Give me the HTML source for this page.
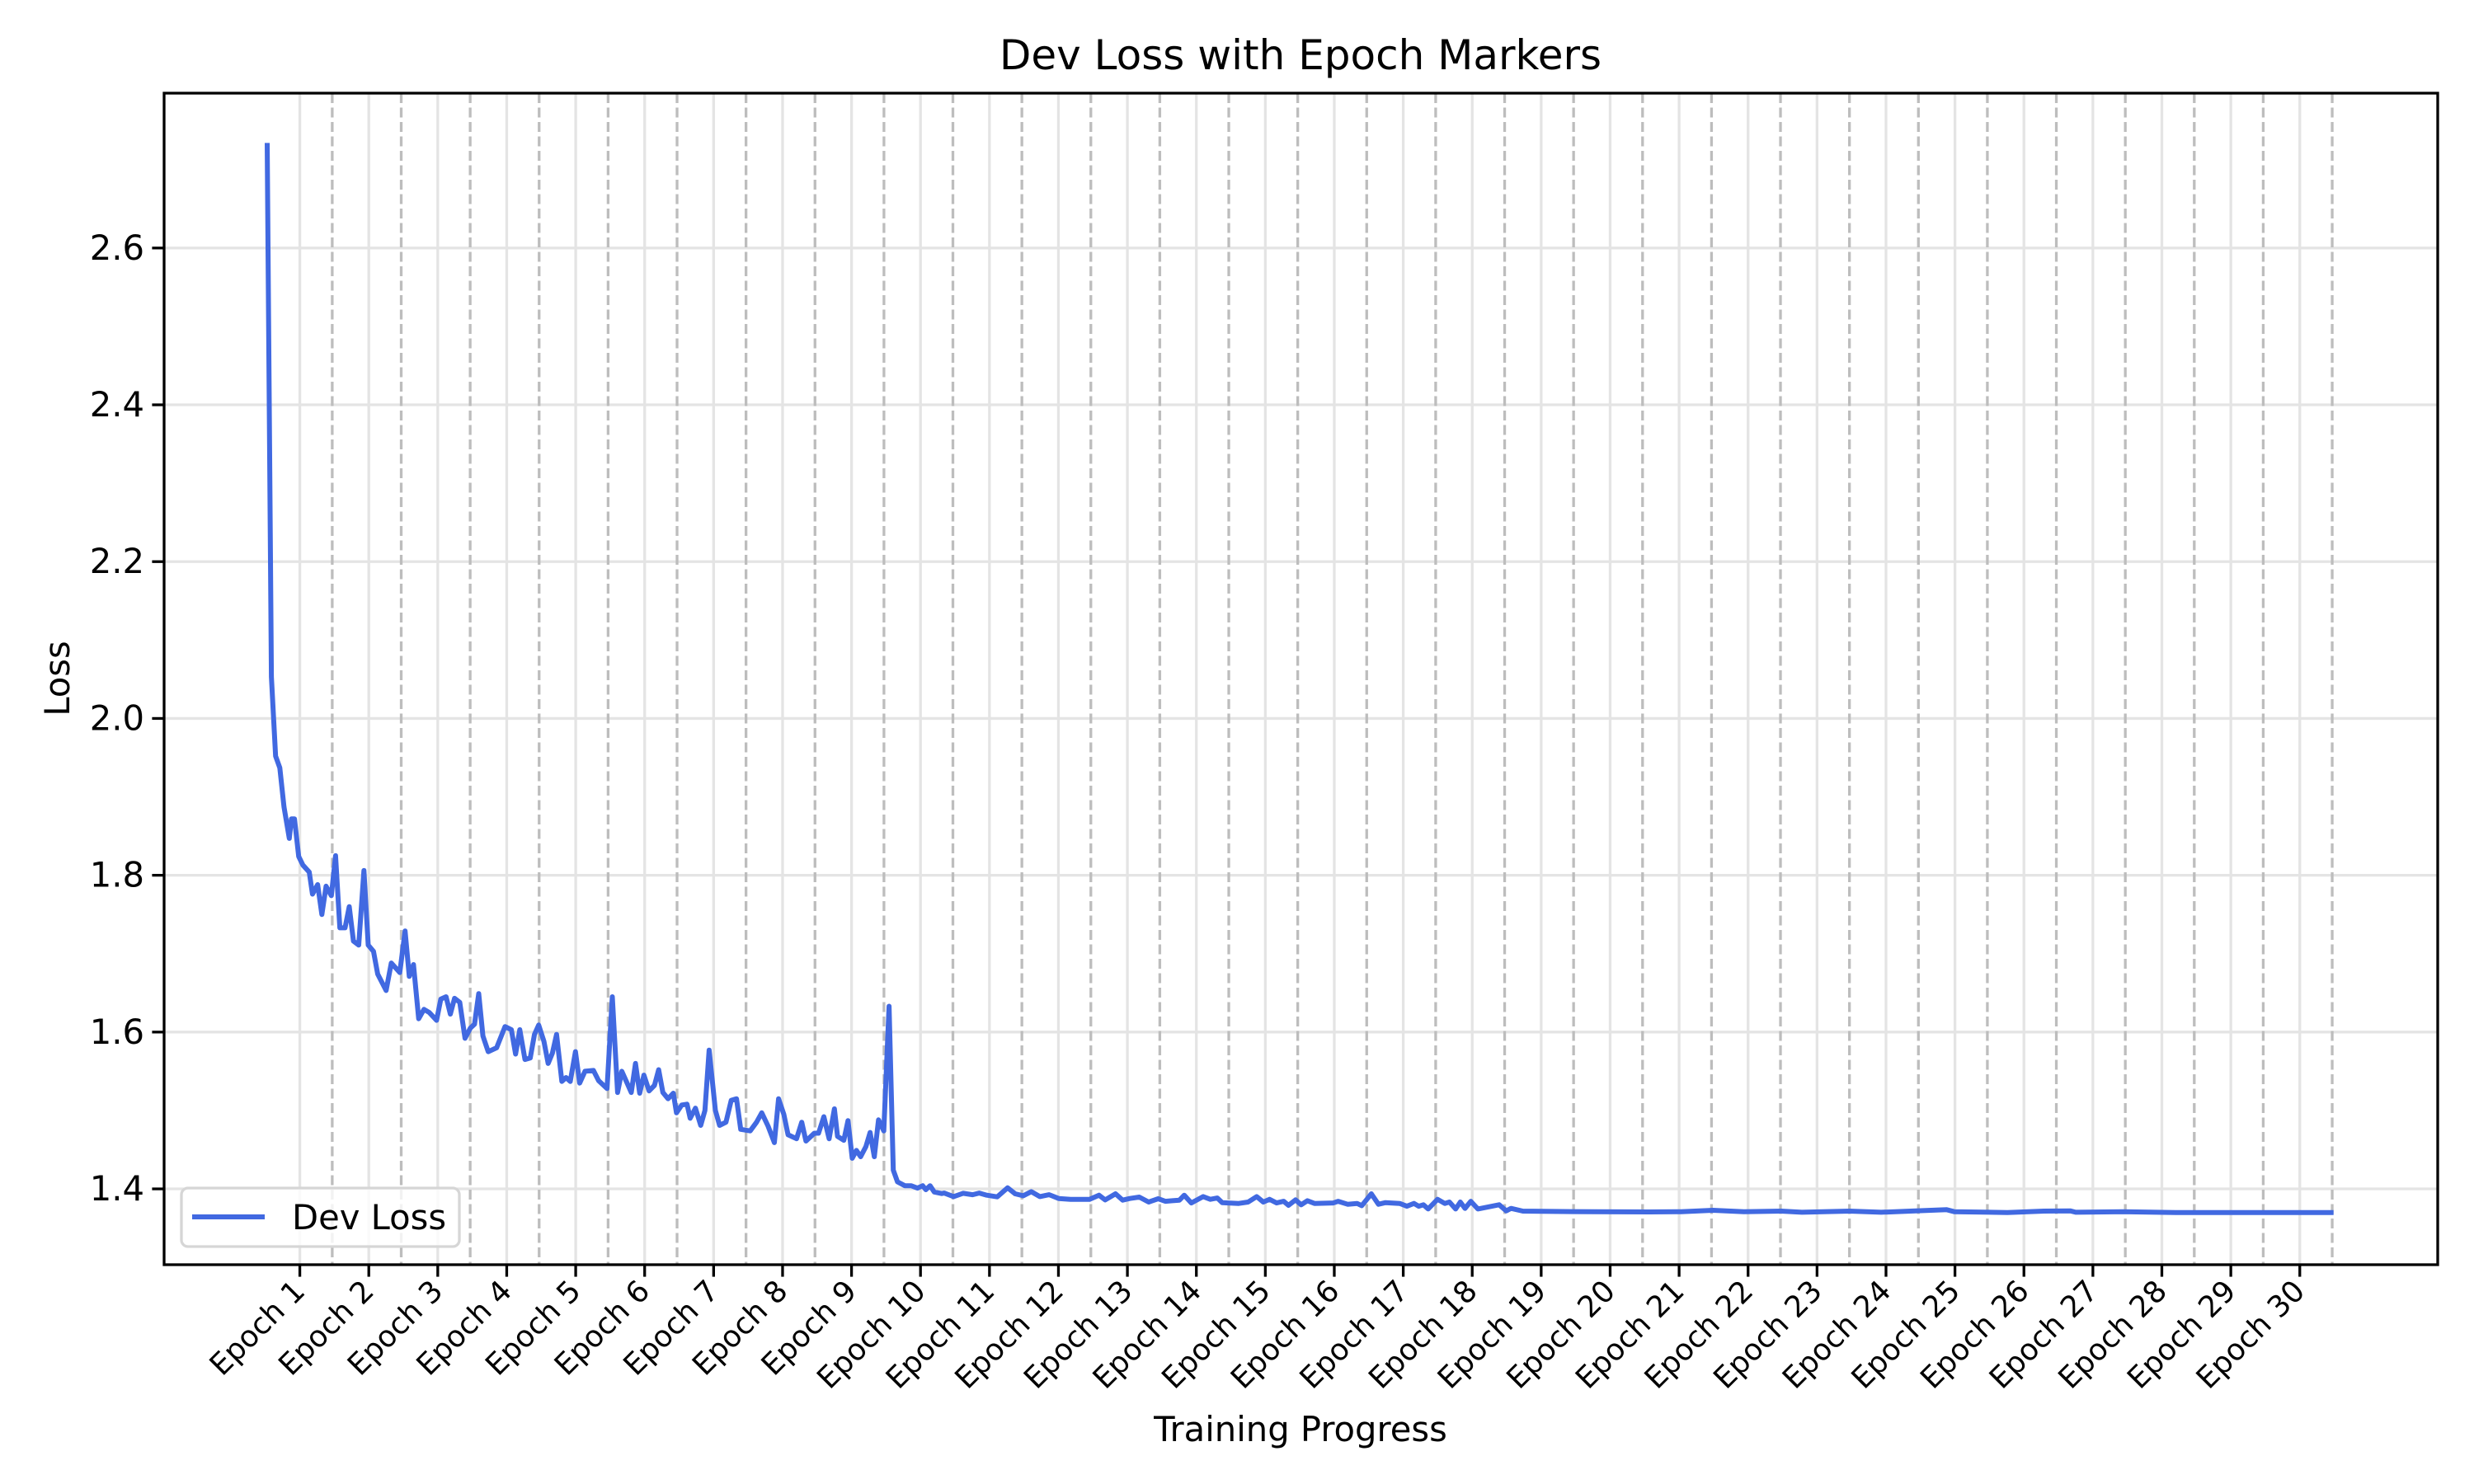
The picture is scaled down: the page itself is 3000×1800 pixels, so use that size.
<!DOCTYPE html>
<html><head><meta charset="utf-8">
<style>
html,body{margin:0;padding:0;background:#fff;}
svg{display:block;font-family:"DejaVu Sans","Liberation Sans",sans-serif;}
</style></head>
<body>
<svg id="chart" width="3000" height="1800" viewBox="0 0 3000 1800" xmlns="http://www.w3.org/2000/svg">
<rect x="0" y="0" width="3000" height="1800" fill="#fff"/>
<g id="grid"></g>
<g id="epochs"></g>
<g id="series"></g>
<rect x="199" y="113" width="2757" height="1421" fill="none" stroke="#000" stroke-width="3.3"/>
<g id="axes"></g>
<text x="1577" y="84" font-size="50" text-anchor="middle">Dev Loss with Epoch Markers</text>
<text x="1577" y="1748" font-size="41.7" text-anchor="middle">Training Progress</text>
<text x="84" y="823" font-size="41.7" text-anchor="middle" transform="rotate(-90 84 823)">Loss</text>
<g>
<rect x="220" y="1441" width="337" height="71" rx="8" fill="#fff" fill-opacity="0.8" stroke="#d6d6d6" stroke-width="3.3"/>
<line x1="233" y1="1476" x2="321" y2="1476" stroke="#4169e1" stroke-width="6"/>
<text x="354" y="1491" font-size="41.7">Dev Loss</text>
</g>
</svg>
<script>
const epochNumbers = [1,2,3,4,5,6,7,8,9,10,11,12,13,14,15,16,17,18,19,20,21,22,23,24,25,26,27,28,29,30];
const yTicks = [1.4,1.6,1.8,2.0,2.2,2.4,2.6];
const progress = [0.057,0.118,0.179,0.240,0.301,0.377,0.408,0.453,0.514,0.575,0.667,0.713,0.789,0.850,0.911,0.987,1.048,1.110,1.186,1.247,1.308,1.384,1.460,1.521,1.598,1.659,1.781,1.857,1.979,2.056,2.117,2.178,2.254,2.330,2.406,2.513,2.574,2.651,2.712,2.773,2.849,2.925,3.002,3.063,3.124,3.185,3.261,3.383,3.505,3.597,3.658,3.719,3.795,3.871,3.932,3.993,4.070,4.131,4.192,4.253,4.329,4.390,4.451,4.527,4.588,4.665,4.787,4.863,4.985,5.061,5.138,5.199,5.275,5.336,5.397,5.458,5.519,5.595,5.672,5.733,5.794,5.870,5.946,5.992,6.068,6.145,6.190,6.267,6.343,6.404,6.465,6.556,6.617,6.709,6.785,6.862,6.923,7.060,7.152,7.228,7.320,7.411,7.472,7.548,7.609,7.732,7.808,7.869,7.991,8.052,8.128,8.205,8.281,8.327,8.418,8.479,8.540,8.601,8.662,8.738,8.799,8.860,8.921,8.998,9.074,9.135,9.196,9.303,9.394,9.486,9.562,9.608,9.669,9.730,9.837,
9.873,10.01,10.147,10.285,10.381,10.491,10.642,10.793,10.903,11.019,11.136,11.26,11.397,11.534,11.706,11.981,12.118,12.207,12.358,12.461,12.565,12.702,12.839,12.976,13.08,13.183,13.285,13.354,13.457,13.629,13.732,13.835,13.904,14.144,14.281,14.405,14.501,14.59,14.693,14.796,14.865,14.968,15.05,15.14,15.243,15.517,15.586,15.723,15.86,15.929,16.067,16.17,16.273,16.479,16.582,16.685,16.753,16.822,16.891,17.028,17.131,17.2,17.289,17.358,17.426,17.509,17.612,17.921,18.024,18.093,18.264,
18.7,19.3,20.10,20.56,21.02,21.47,22.01,22.31,23.0,23.46,24.07,24.41,24.52,25.29,25.82,26.2,26.28,26.97,27.73,28.5,29.3,30.02];
const devLoss = [2.734,2.053,1.952,1.937,1.887,1.847,1.872,1.872,1.824,1.813,1.804,1.776,1.788,1.750,1.786,1.774,1.825,1.733,1.733,1.760,1.716,1.711,1.806,1.711,1.703,1.674,1.653,1.688,1.676,1.729,1.671,1.686,1.617,1.629,1.625,1.615,1.642,1.645,1.623,1.643,1.638,1.592,1.605,1.610,1.649,1.595,1.575,1.580,1.607,1.603,1.572,1.603,1.565,1.567,1.597,1.609,1.588,1.560,1.573,1.597,1.537,1.542,1.537,1.575,1.535,1.550,1.551,1.538,1.528,1.645,1.523,1.550,1.535,1.523,1.560,1.522,1.545,1.525,1.532,1.552,1.523,1.515,1.522,1.497,1.507,1.508,1.490,1.503,1.481,1.500,1.577,1.500,1.481,1.485,1.513,1.515,1.476,1.474,1.485,1.497,1.480,1.459,1.515,1.495,1.469,1.464,1.485,1.461,1.471,1.471,1.492,1.464,1.502,1.467,1.462,1.487,1.439,1.449,1.441,1.454,1.472,1.441,1.488,1.474,1.633,1.424,1.409,1.404,1.404,1.401,1.404,1.399,1.404,1.396,1.394,
1.3947,1.3902,1.3944,1.3926,1.3947,1.3919,1.3898,1.4014,1.3937,1.3912,1.3965,1.3902,1.3926,1.3877,1.3867,1.3867,1.3919,1.386,1.3937,1.3856,1.3877,1.3895,1.3832,1.3874,1.3842,1.3849,1.3856,1.3919,1.3821,1.3902,1.3867,1.3884,1.3825,1.3814,1.3832,1.3902,1.3832,1.3867,1.3821,1.3842,1.379,1.386,1.3797,1.3849,1.3814,1.3821,1.3842,1.3804,1.3814,1.3786,1.3937,1.3804,1.3825,1.3814,1.3779,1.3814,1.3779,1.3797,1.3744,1.3867,1.3814,1.3832,1.3744,1.3832,1.3751,1.3842,1.3744,1.3797,1.372,1.3751,1.3716,
1.3712,1.3708,1.3706,1.3709,1.3727,1.3709,1.3716,1.3702,1.3716,1.3702,1.3723,1.3734,1.3709,1.3699,1.3716,1.372,1.3702,1.3709,1.3699,1.3699,1.3699,1.3699];

const NS = "http://www.w3.org/2000/svg";
const L = 199, R = 2956, T = 113, B = 1534;
const X0 = -1.438, X1 = 31.53;
const Y0 = 1.3033, Y1 = 2.7975;
function xs(e){ return L + (e - X0) / (X1 - X0) * (R - L); }
function ys(v){ return B - (v - Y0) / (Y1 - Y0) * (B - T); }
function mk(tag, attrs, parent){
  const el = document.createElementNS(NS, tag);
  for (const k in attrs) el.setAttribute(k, attrs[k]);
  parent.appendChild(el);
  return el;
}
const grid = document.getElementById('grid');
const epochsG = document.getElementById('epochs');
const axes = document.getElementById('axes');
const series = document.getElementById('series');

yTicks.forEach(v => {
  const y = ys(v);
  const g = mk('line', {x1:L, x2:R, y1:y, y2:y, stroke:'#e4e4e4', 'stroke-width':3.3}, grid);
  
  
  const t = mk('line', {x1:L-14.6, x2:L, y1:y, y2:y, stroke:'#000', 'stroke-width':3.3}, axes);
  
  
  const lb = mk('text', {x:L-24, y:y+14, 'font-size':41.7, 'text-anchor':'end'}, axes);
  lb.textContent = v.toFixed(1);
  
  
});

epochNumbers.forEach(k => {
  const xc = xs(k - 0.5 + 0.03);
  const g = mk('line', {x1:xc, x2:xc, y1:T, y2:B, stroke:'#e4e4e4', 'stroke-width':3.3}, grid);
  
  
  const xd = xs(k);
  const d = mk('line', {x1:xd, x2:xd, y1:T, y2:B, stroke:'#bdbdbd', 'stroke-width':3.3, 'stroke-dasharray':'12 5.5'}, epochsG);
  
  
  const t = mk('line', {x1:xc, x2:xc, y1:B, y2:B+14.6, stroke:'#000', 'stroke-width':3.3}, axes);
  
  
  const lx = xc - 10, ly = B + 16;
  const lb = mk('text', {x:lx, y:ly, 'font-size':36, 'text-anchor':'end', 'dominant-baseline':'hanging', transform:'rotate(-45 '+lx+' '+ly+')'}, axes);
  lb.textContent = 'Epoch ' + k;
  
  
});

const pts = progress.map((e, i) => xs(e).toFixed(1) + ',' + ys(devLoss[i]).toFixed(1)).join(' ');
const line = mk('polyline', {points:pts, fill:'none', stroke:'#4169e1', 'stroke-width':6, 'stroke-linejoin':'round', 'stroke-linecap':'butt'}, series);


</script>
</body></html>
